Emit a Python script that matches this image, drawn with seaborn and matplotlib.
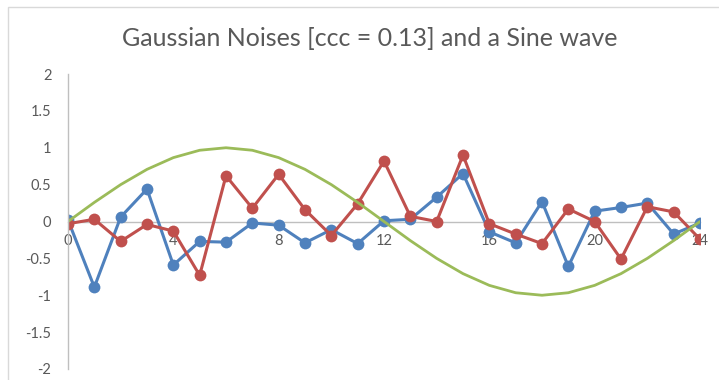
import matplotlib
matplotlib.use("Agg")
import matplotlib.pyplot as plt
import matplotlib.patches as mpatches
import pandas as pd
import seaborn as sns

# Sample index along the horizontal axis
steps = list(range(25))

# First Gaussian noise series (blue)
noise_a = [0.02, -0.89, 0.06, 0.44, -0.59, -0.27, -0.28, -0.02, -0.05, -0.29,
           -0.11, -0.30, 0.01, 0.03, 0.33, 0.65, -0.14, -0.29, 0.27, -0.61,
           0.14, 0.19, 0.25, -0.17, -0.02]

# Second Gaussian noise series (red)
noise_b = [-0.03, 0.03, -0.27, -0.04, -0.13, -0.73, 0.62, 0.18, 0.64, 0.16,
           -0.19, 0.24, 0.82, 0.07, 0.00, 0.90, -0.03, -0.17, -0.30, 0.17,
           0.00, -0.51, 0.20, 0.13, -0.24]

# One full period of the sine wave (green)
sine_wave = [0.0, 0.259, 0.5, 0.707, 0.866, 0.966, 1.0, 0.966, 0.866, 0.707,
             0.5, 0.259, 0.0, -0.259, -0.5, -0.707, -0.866, -0.966, -1.0,
             -0.966, -0.866, -0.707, -0.5, -0.259, 0.0]

x_ticks = [0, 4, 8, 12, 16, 20, 24]
y_ticks = [-2, -1.5, -1, -0.5, 0, 0.5, 1, 1.5, 2]
y_tick_labels = ["-2", "-1.5", "-1", "-0.5", "0", "0.5", "1", "1.5", "2"]

title_text = "Gaussian Noises [ccc = 0.13] and a Sine wave"

BLUE = "#4F81BD"
RED = "#C0504D"
GREEN = "#9BBB59"
TEXT = "#595959"
AXIS = "#BFBFBF"

sns.set_theme(style="white")
plt.rcParams["font.family"] = ["Lato", "DejaVu Sans"]

df = pd.DataFrame({"x": steps, "a": noise_a, "b": noise_b, "s": sine_wave})

fig = plt.figure(figsize=(7.19, 3.80), dpi=100)
fig.patch.set_facecolor("white")

# Light chart-area frame
fig.patches.append(mpatches.Rectangle((8 / 719, -0.1), 1.2, 1 - 7 / 380 + 0.1,
                                      transform=fig.transFigure, fill=False,
                                      edgecolor="#D9D9D9", linewidth=1.0))

ax = fig.add_axes([68 / 719, 1 - 369 / 380, 632 / 719, (369 - 74) / 380])
ax.set_facecolor("none")

line_kw = dict(linewidth=2.2, marker="o", markersize=8.5, markeredgewidth=0)
sns.lineplot(data=df, x="x", y="a", color=BLUE, ax=ax, **line_kw)
sns.lineplot(data=df, x="x", y="b", color=RED, ax=ax, **line_kw)
sns.lineplot(data=df, x="x", y="s", color=GREEN, ax=ax, linewidth=2.0)

ax.set_xlim(0, 24)
ax.set_ylim(-2, 2)
ax.set_xticks(x_ticks)
ax.set_xticklabels([str(t) for t in x_ticks])
ax.set_yticks(y_ticks)
ax.set_yticklabels(y_tick_labels)
ax.set_xlabel("")
ax.set_ylabel("")

for side in ("top", "right"):
    ax.spines[side].set_visible(False)
ax.spines["bottom"].set_position(("data", 0))
ax.spines["bottom"].set_color(AXIS)
ax.spines["bottom"].set_linewidth(1.0)
ax.spines["bottom"].set_zorder(0)
ax.spines["left"].set_color(AXIS)
ax.spines["left"].set_linewidth(1.0)

ax.tick_params(axis="both", length=0, labelsize=10.5, labelcolor=TEXT)
ax.tick_params(axis="y", pad=12)
ax.tick_params(axis="x", pad=9)

fig.text(370 / 719, 1 - 38 / 380, title_text, ha="center", va="center",
         fontsize=18, color=TEXT)

fig.savefig("out.png", dpi=100)
